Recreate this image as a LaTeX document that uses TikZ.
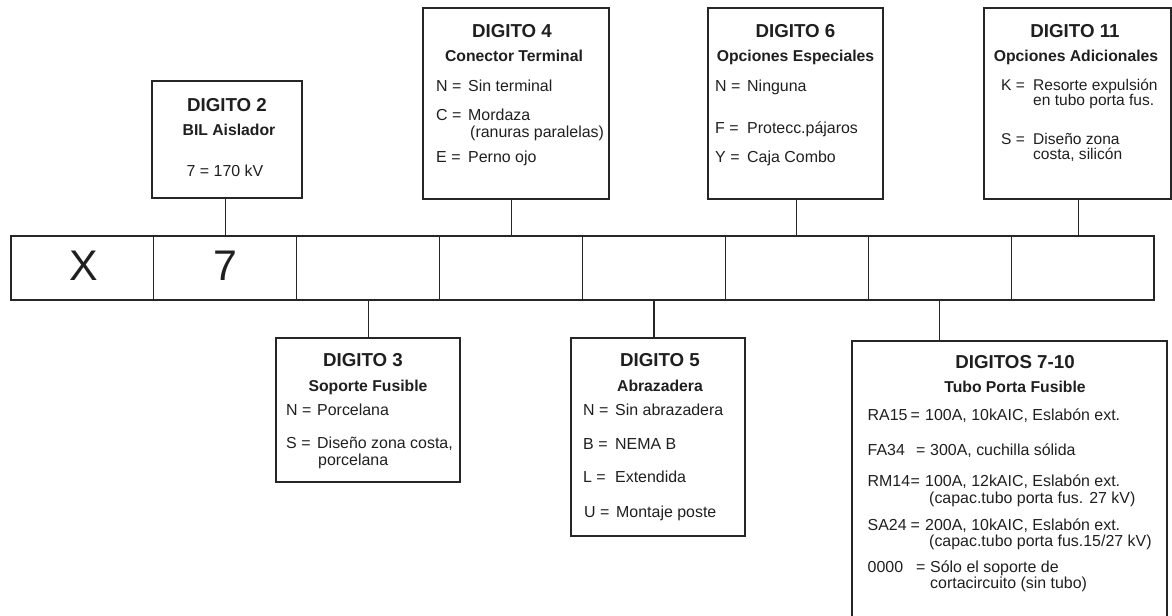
\documentclass[tikz,border=0pt]{standalone}
\usepackage{fontspec}
\setmainfont{Liberation Sans}
\begin{document}
\begin{tikzpicture}[x=1bp,y=-1bp,
 cell/.style={draw=black!85,line width=1.1bp,minimum width=142.9bp,minimum height=64bp,anchor=north west,inner sep=0,outer sep=0},
 box/.style={draw=black!85,line width=1.1bp,anchor=north west,inner sep=0,outer sep=0},
 conn/.style={draw=black!85,line width=1.1bp},
 head/.style={anchor=base,inner sep=0,font=\fontsize{18.8}{20}\selectfont\bfseries,text=black!88},
 sub/.style={anchor=base,inner sep=0,font=\fontsize{15.8}{18}\selectfont\bfseries,text=black!88},
 body/.style={anchor=base west,inner sep=0,font=\fontsize{16}{18}\selectfont,text=black!88},
 tight/.style={anchor=base west,inner sep=0,font=\fontsize{15.6}{17}\selectfont,text=black!88},
 big/.style={anchor=base,inner sep=0,font=\fontsize{43}{44}\selectfont,text=black!88},
]
\useasboundingbox (0,0) rectangle (1172,616);
\clip (0,0) rectangle (1172,616);

% code bar
\foreach \i in {1,...,8} \node[cell] (c\i) at ({11+142.875*(\i-1)},236) {};
\node[big] (vx) at (83.5,281) {X};
\node[big] (v7) at (225.5,281) {7};

% DIGITO 2
\node[box,minimum width=150bp,minimum height=117bp] (b2) at (152,81) {};
\draw[conn] (b2.south -| c2.north) -- (c2.north);
\node[head] (h2) at (227,111.5) {DIGITO 2};
\node[sub] (s2) at (229,135.5) {BIL Aislador};
\node[anchor=base,inner sep=0,font=\fontsize{16}{18}\selectfont,text=black!88] (l2a) at (225,176.5) {7 = 170 kV};

% DIGITO 4
\node[box,minimum width=186bp,minimum height=191bp] (b4) at (423,8) {};
\draw[conn] (b4.south -| c4.north) -- (c4.north);
\node[head] (h4) at (512,37.5) {DIGITO 4};
\node[sub] (s4) at (514,61.5) {Conector Terminal};
\node[body] (k4a) at (436,91.5) {N =};
\node[body] (v4a) at (468,91.5) {Sin terminal};
\node[body] (k4b) at (436,120.5) {C =};
\node[body] (v4b) at (468,120.5) {Mordaza};
\node[body] (v4c) at (470,138) {(ranuras paralelas)};
\node[body] (k4c) at (436,162.5) {E =};
\node[body] (v4d) at (468,162.5) {Perno ojo};

% DIGITO 6
\node[box,minimum width=175bp,minimum height=191bp] (b6) at (708,8) {};
\draw[conn] (b6.south -| c6.north) -- (c6.north);
\node[head] (h6) at (795.5,37.5) {DIGITO 6};
\node[sub] (s6) at (795.5,61.5) {Opciones Especiales};
\node[body] (k6a) at (715,91.5) {N =};
\node[body] (v6a) at (747,91.5) {Ninguna};
\node[body] (k6b) at (715,133.5) {F =};
\node[body] (v6b) at (747,133.5) {Protecc.pájaros};
\node[body] (k6c) at (715,162.5) {Y =};
\node[body] (v6c) at (747,162.5) {Caja Combo};

% DIGITO 11
\node[box,minimum width=187bp,minimum height=191bp] (b11) at (984,8) {};
\coordinate (c8t) at ([xshift=-4bp]c8.north);
\draw[conn] (b11.south -| c8t) -- (c8t);
\node[head] (h11) at (1075,37.5) {DIGITO 11};
\node[sub] (s11) at (1076,61.5) {Opciones Adicionales};
\node[tight] (k11a) at (1001,91) {K =};
\node[tight] (v11a) at (1033,91) {Resorte expulsión};
\node[tight] (v11b) at (1033,105.5) {en tubo porta fus.};
\node[tight] (k11b) at (1001,145) {S =};
\node[tight] (v11c) at (1033,145) {Diseño zona};
\node[tight] (v11d) at (1033,159.5) {costa, silicón};

% DIGITO 3
\node[box,minimum width=184bp,minimum height=144bp] (b3) at (276,338) {};
\draw[conn] (c3.south) -- (c3.south |- b3.north);
\node[head] (h3) at (363,366.5) {DIGITO 3};
\node[sub] (s3) at (368,391.5) {Soporte Fusible};
\node[body] (k3a) at (286,415.5) {N =};
\node[body] (v3a) at (317,415.5) {Porcelana};
\node[body] (k3b) at (286,448.5) {S =};
\node[body] (v3b) at (317,448.5) {Diseño zona costa,};
\node[body] (v3c) at (318,465.5) {porcelana};

% DIGITO 5
\node[box,minimum width=174bp,minimum height=198bp] (b5) at (571,338) {};
\draw[conn] (c5.south) -- (c5.south |- b5.north);
\node[head] (h5) at (660,366.5) {DIGITO 5};
\node[sub] (s5) at (660,391.5) {Abrazadera};
\node[body] (k5a) at (583,415.5) {N =};
\node[body] (v5a) at (615,415.5) {Sin abrazadera};
\node[body] (k5b) at (583,449.5) {B =};
\node[body] (v5b) at (615,449.5) {NEMA B};
\node[body] (k5c) at (583,482.5) {L =};
\node[body] (v5c) at (615,482.5) {Extendida};
\node[body] (k5d) at (584,517.5) {U =};
\node[body] (v5d) at (616,517.5) {Montaje poste};

% DIGITOS 7-10
\node[box,minimum width=315bp,minimum height=300bp] (b7) at (852,341) {};
\draw[conn] (c7.south) -- (c7.south |- b7.north);
\node[head] (h7) at (1015,368.5) {DIGITOS 7-10};
\node[sub] (s7) at (1015,392.5) {Tubo Porta Fusible};
\node[body] (k7a) at (867.5,420.5) {RA15};
\node[body] (e7a) at (910.5,420.5) {=};
\node[body] (v7a) at (925,420.5) {100A, 10kAIC, Eslabón ext.};
\node[body] (k7b) at (867.5,455.5) {FA34};
\node[body] (e7b) at (916,455.5) {=};
\node[body] (v7b) at (930,455.5) {300A, cuchilla sólida};
\node[body] (k7c) at (867.5,486.5) {RM14};
\node[body] (e7c) at (910.5,486.5) {=};
\node[body] (v7c) at (925,486.5) {100A, 12kAIC, Eslabón ext.};
\node[body] (v7d) at (929,503.5) {(capac.tubo porta fus. 27 kV)};
\node[body] (k7d) at (867.5,530.5) {SA24};
\node[body] (e7d) at (910.5,530.5) {=};
\node[body] (v7e) at (925,530.5) {200A, 10kAIC, Eslabón ext.};
\node[body] (v7f) at (929,546.5) {(capac.tubo porta fus.15/27 kV)};
\node[body] (k7e) at (867.5,572.5) {0000};
\node[body] (e7e) at (916,572.5) {=};
\node[body] (v7g) at (930,572.5) {Sólo el soporte de};
\node[body] (v7h) at (930,588.5) {cortacircuito (sin tubo)};
\end{tikzpicture}
\end{document}
